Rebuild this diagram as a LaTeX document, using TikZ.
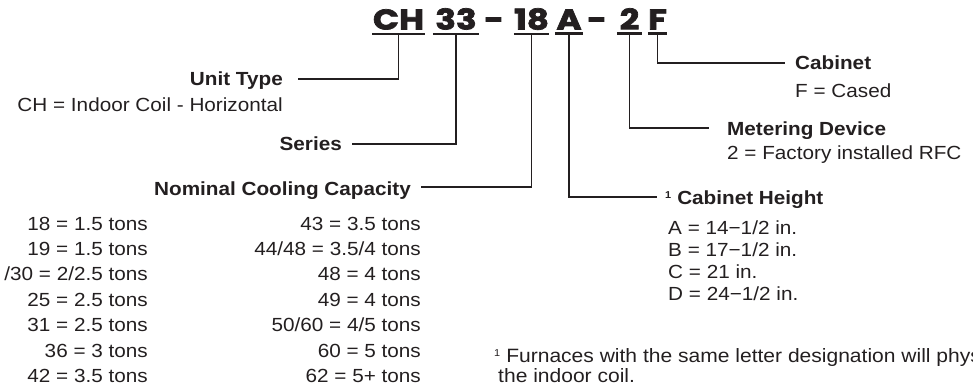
\documentclass[tikz,border=0pt]{standalone}
\usepackage{fontspec}
\setmainfont{Liberation Sans}[FakeStretch=1.09]
\newfontfamily\codefont{Poppins}[FakeStretch=1.2, BoldFeatures={FakeBold=2.5}]
\definecolor{ink}{HTML}{231F20}
\begin{document}
\begin{tikzpicture}[x=1pt,y=-1pt,
  txt/.style={inner sep=0pt, text=ink, font=\fontsize{19}{22}\selectfont},
  hd/.style={inner sep=0pt, text=ink, font=\fontsize{19}{22}\selectfont\bfseries},
  code/.style={inner xsep=0pt, inner ysep=4pt, anchor=base, text=ink,
    font=\codefont\bfseries\fontsize{28.5}{30}\selectfont},
  uline/.style={draw=ink, line width=2.6pt},
  conn/.style={draw=ink, line width=1.8pt}
]
\path[use as bounding box] (0,0) rectangle (973,385);
\clip (0,0) rectangle (973,385);

% model code
\node[code, minimum width=52pt] (cCH) at (398.5,29.5) {CH};
\node[code, minimum width=46pt] (c33) at (456,29.5) {33};
\node[code] (d1) at (494,29.5) {-};
\node[code, minimum width=29pt] (c18) at (531.5,29.5) {18};
\node[code, minimum width=28pt] (cA) at (569,29.5) {A};
\node[code] (d2) at (597,29.5) {-};
\node[code, minimum width=25pt] (c2) at (629.5,29.5) {2};
\node[code, minimum width=19pt] (cF) at (657.5,29.5) {F};
\foreach \n in {cCH,c33,c18,cA,c2,cF}
  \draw[uline] (\n.south west) -- (\n.south east);

% connector ends
\coordinate (eUT) at (298,79);
\coordinate (eSe) at (352,144);
\coordinate (eNC) at (421,187);
\coordinate (eCH) at (657,197);
\coordinate (eMD) at (709,128);
\coordinate (eCab) at (785,63);

\draw[conn] (cCH.south) |- (eUT);
\draw[conn] (c33.south) |- (eSe);
\draw[conn] (c18.south) |- (eNC);
\draw[conn] (cA.south) |- (eCH);
\draw[conn] (c2.south) |- (eMD);
\draw[conn] (cF.south) |- (eCab);

% left side labels
\node[hd, anchor=base east] (ut) at (283,86) {Unit Type};
\node[txt, anchor=base east] (utv) at (283,112) {CH = Indoor Coil - Horizontal};
\node[hd, anchor=base east] (se) at (342,150) {Series};
\node[hd, anchor=base east] (nc) at (411,195) {Nominal Cooling Capacity};

\foreach \t [count=\i] in {18 = 1.5 tons, 19 = 1.5 tons, /30 = 2/2.5 tons,
    25 = 2.5 tons, 31 = 2.5 tons, 36 = 3 tons, 42 = 3.5 tons}
  \node[txt, anchor=base east] (L\i) at (148,{230+25.4*(\i-1)}) {\t};
\foreach \t [count=\i] in {43 = 3.5 tons, 44/48 = 3.5/4 tons, 48 = 4 tons,
    49 = 4 tons, 50/60 = 4/5 tons, 60 = 5 tons, 62 = 5+ tons}
  \node[txt, anchor=base east] (R\i) at (421,{230+25.4*(\i-1)}) {\t};

% right side labels
\node[hd, anchor=base west] (cab) at (795,70) {Cabinet};
\node[txt, anchor=base west] (cabv) at (795,98) {F = Cased};
\node[hd, anchor=base west] (md) at (727,135) {Metering Device};
\node[txt, anchor=base west] (mdv) at (727,159) {2 = Factory installed RFC};
\node[hd, anchor=base west] (chh) at (665,204)
  {\raisebox{6pt}{\fontsize{10}{10}\selectfont 1}\hspace{6pt}Cabinet Height};
\foreach \t [count=\i] in {A = 14−1/2 in., B = 17−1/2 in., C = 21 in., D = 24−1/2 in.}
  \node[txt, anchor=base west] (H\i) at (668,{234+22*(\i-1)}) {\t};

\node[txt, anchor=base west, font=\fontsize{19.3}{22}\selectfont] (fn1) at (494,362)
  {\raisebox{6pt}{\fontsize{10}{10}\selectfont 1}\hspace{6pt}Furnaces with the same letter designation will physically match};
\node[txt, anchor=base west, font=\fontsize{19.3}{22}\selectfont] (fn2) at (498,382) {the indoor coil.};
\end{tikzpicture}
\end{document}
